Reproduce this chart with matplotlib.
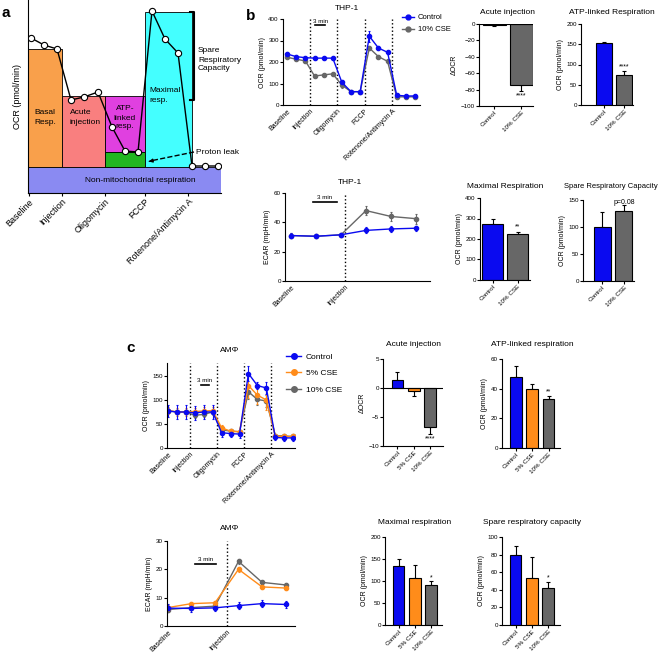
import matplotlib
matplotlib.use("Agg")
import matplotlib.pyplot as plt
from matplotlib.lines import Line2D
import numpy as np

plt.rcParams["font.family"] = ["Liberation Sans", "DejaVu Sans"]
plt.rcParams["font.size"] = 4.5
plt.rcParams["axes.linewidth"] = 0.8
plt.rcParams["xtick.major.width"] = 0.8
plt.rcParams["ytick.major.width"] = 0.8
plt.rcParams["xtick.major.size"] = 2
plt.rcParams["ytick.major.size"] = 2
plt.rcParams["xtick.major.pad"] = 1
plt.rcParams["ytick.major.pad"] = 1

BLUE = "#0a0af0"
ORANGE = "#ff8c1a"
GRAY = "#676767"

# ---------------- data ----------------
# panel a: schematic seahorse trace
a_x = [3, 16, 29, 43, 56, 70, 84, 97, 110, 124, 137, 150, 164, 177, 190]
a_y = [155, 148, 144, 93, 96, 101, 66, 42, 41, 182, 154, 140, 27, 27, 27]
a_ticks = [1, 34, 77, 117, 160]
phases = ["Baseline", "Injection", "Oligomycin", "FCCP", "Rotenone/Antimycin A"]
block_left = [0, 0, 34, 77, 77, 117]
block_right = [193, 34, 77, 117, 117, 164]
block_bottom = [0, 26, 26, 41, 26, 26]
block_top = [26, 144, 97, 97, 41, 181]
block_colors = ["#8a8af2", "#f9a04b", "#f97f7f", "#e040e0", "#22b622", "#44ffff"]

# panel b: THP-1
thp_ocr_ctrl = [237, 225, 220, 218, 218, 218, 105, 62, 62, 320, 265, 245, 45, 42, 42]
thp_ocr_ctrl_err = [8, 6, 5, 5, 5, 5, 10, 5, 5, 25, 8, 8, 6, 4, 4]
thp_ocr_cse = [222, 213, 205, 135, 140, 145, 92, 62, 62, 265, 225, 203, 38, 38, 38]
thp_ocr_cse_err = [5, 5, 5, 6, 5, 5, 15, 4, 4, 10, 8, 8, 4, 4, 4]

thp_ecar_ctrl = [31, 30.5, 31.5, 34.5, 35.5, 36]
thp_ecar_ctrl_err = [1.5, 1.5, 1.5, 2, 1.8, 1.8]
thp_ecar_cse = [31, 30.5, 31.5, 48, 44, 42.5]
thp_ecar_cse_err = [1.5, 1.5, 1.5, 3, 3, 3.5]

b_groups = ["Control", "10% CSE"]
b_acute = [-1, -74]
b_acute_err = [1, 8]
b_atp = [153, 74]
b_atp_err = [2, 9]
b_max = [275, 225]
b_max_err = [25, 8]
b_spare = [100, 130]
b_spare_err = [27, 10]

# panel c: AMPhi
am_ocr_ctrl = [77, 75, 75, 73, 75, 75, 32, 30, 29, 155, 130, 125, 22, 21, 21]
am_ocr_ctrl_err = [12, 15, 15, 15, 15, 15, 10, 8, 8, 15, 8, 12, 6, 6, 6]
am_ocr_5 = [78, 75, 75, 76, 77, 78, 42, 35, 34, 130, 110, 100, 25, 24, 24]
am_ocr_5_err = [8, 8, 8, 8, 8, 8, 5, 4, 4, 25, 18, 20, 3, 3, 3]
am_ocr_10 = [78, 75, 75, 68, 70, 75, 38, 35, 34, 117, 101, 98, 26, 25, 24]
am_ocr_10_err = [6, 5, 5, 6, 6, 6, 4, 3, 3, 15, 12, 12, 3, 3, 3]

am_ecar_ctrl = [6.3, 6.2, 6.4, 7.2, 7.9, 7.6]
am_ecar_ctrl_err = [1.5, 1.2, 1, 1.2, 1.2, 1.2]
am_ecar_5 = [6.5, 7.9, 8.2, 20, 13.8, 13.4]
am_ecar_5_err = [1, 0.5, 0.5, 0.8, 0.7, 0.7]
am_ecar_10 = [5.8, 6.5, 7, 22.8, 15.4, 14.5]
am_ecar_10_err = [1, 0.5, 0.5, 0.8, 0.6, 0.6]

c_groups = ["Control", "5% CSE", "10% CSE"]
c_acute = [1.3, -0.5, -6.8]
c_acute_err = [1.5, 0.8, 1.2]
c_atp = [48, 40, 33]
c_atp_err = [7, 3, 2]
c_max = [135, 107, 91]
c_max_err = [16, 29, 9]
c_spare = [80, 53, 42]
c_spare_err = [10, 24, 7]

# ---------------- figure ----------------
W, H = 660, 654
fig = plt.figure(figsize=(6.6, 6.54), dpi=100)


def box(l, t, r, b):
    ax = fig.add_axes([l / W, 1 - b / H, (r - l) / W, (b - t) / H])
    ax.spines[["top", "right"]].set_visible(False)
    return ax


def ftext(x, y, s, **kw):
    fig.text(x / W, 1 - y / H, s, **kw)


def line_panel(ax, series, xlim, ylim, yticks, vlines, tickpos, ylabel):
    for vals, errs, color in series:
        x = np.arange(len(vals))
        ax.errorbar(x, vals, yerr=errs, color=color, marker="o", ms=3,
                    lw=1, elinewidth=0.8, capsize=1, capthick=0.8)
    for v in vlines:
        ax.axvline(v, color="k", ls=":", lw=1)
    ax.set_xlim(*xlim)
    ax.set_ylim(*ylim)
    ax.set_yticks(yticks)
    ax.set_xticks(tickpos)
    ax.set_xticklabels(phases[:len(tickpos)], rotation=45, ha="right",
                       rotation_mode="anchor", fontsize=5)
    ax.tick_params(axis="x", length=0, pad=2)
    ax.set_ylabel(ylabel, fontsize=5, labelpad=2)


def bar_panel(ax, vals, errs, colors, groups, xlim, ylim, yticks, ylabel,
              sig, sig_y, width):
    x = np.arange(len(vals))
    ax.bar(x, vals, width, color=colors, edgecolor="k", lw=0.8, zorder=2)
    lo = [e if v < 0 else 0 for v, e in zip(vals, errs)]
    hi = [e if v >= 0 else 0 for v, e in zip(vals, errs)]
    ax.errorbar(x, vals, yerr=[lo, hi], fmt="none", ecolor="k",
                elinewidth=0.8, capsize=1.5, capthick=0.8, zorder=1)
    if ylim[0] < 0:
        ax.axhline(0, color="k", lw=0.8)
    ax.text(len(vals) - 1, sig_y, sig, ha="center", va="center", fontsize=5)
    ax.set_xlim(*xlim)
    ax.set_ylim(*ylim)
    ax.set_yticks(yticks)
    ax.set_xticks(x)
    ax.set_xticklabels(groups, rotation=45, ha="right", rotation_mode="anchor",
                       fontsize=4.5)
    ax.set_ylabel(ylabel, fontsize=5, labelpad=2)


# ---- panel a ----
ax = box(28, 0, 221, 193)
ax.bar(block_left, np.subtract(block_top, block_bottom),
       np.subtract(block_right, block_left), bottom=block_bottom,
       align="edge", color=block_colors, edgecolor="k", lw=0.6, zorder=1)
ax.plot(a_x, a_y, color="k", lw=1, marker="o", ms=4.5, mfc="white",
        mec="k", mew=0.8, zorder=4)
ax.plot([162, 166, 166, 162], [181, 181, 93, 93], color="k", lw=1.5, zorder=3)
ax.plot([166, 122], [41, 32], color="k", ls="--", lw=1, zorder=3)
ax.annotate("", xy=(118, 31), xytext=(124, 32.2),
            arrowprops=dict(arrowstyle="-|>", color="k", lw=1,
                            mutation_scale=5), zorder=3)
kw = dict(fontsize=6, zorder=5)
ax.text(17, 76, "Basal\nResp.", ha="center", va="center", linespacing=1.6, **kw)
ax.text(42, 76, "Acute\ninjection", ha="left", va="center", linespacing=1.6, **kw)
ax.text(97, 75, "ATP-\nlinked\nresp.", ha="center", va="center", linespacing=1.4, **kw)
ax.text(121, 97, "Maximal\nresp.", ha="left", va="center", linespacing=1.6, **kw)
ax.text(170, 133, "Spare\nRespiratory\nCapacity", ha="left", va="center",
        linespacing=1.4, **kw)
ax.text(168, 41, "Proton leak", ha="left", va="center", **kw)
ax.text(112, 13, "Non-mitochondrial respiration", ha="center", va="center", **kw)
ax.set_xlim(0, 193)
ax.set_ylim(0, 193)
ax.set_yticks([])
ax.set_xticks(a_ticks)
ax.set_xticklabels(phases, rotation=45, ha="right", rotation_mode="anchor",
                   fontsize=6.5)
ax.set_ylabel("OCR (pmol/min)", fontsize=6.5, labelpad=4)
ftext(2, 17, "a", fontsize=11, fontweight="bold")

# ---- panel b ----
ftext(246, 20, "b", fontsize=11, fontweight="bold")

ax = box(283, 19, 420, 105)
line_panel(ax, [(thp_ocr_cse, thp_ocr_cse_err, GRAY),
                (thp_ocr_ctrl, thp_ocr_ctrl_err, BLUE)],
           (-0.45, 14.55), (0, 400), [0, 100, 200, 300, 400],
           [2.5, 5.5, 8.5, 11.5], [0, 2.5, 5.5, 8.5, 11.5], "OCR (pmol/min)")
ax.plot([3.1, 4.2], [372, 372], color="k", lw=1.2)
ax.text(3.65, 378, "3 min", ha="center", va="bottom", fontsize=4.5)
h_ctrl = Line2D([], [], color=BLUE, marker="o", ms=3.5, lw=1)
h_cse = Line2D([], [], color=GRAY, marker="o", ms=3.5, lw=1)
ax.legend([h_ctrl, h_cse], b_groups, loc="upper left",
          bbox_to_anchor=(402 / W, 1 - 14 / H), bbox_transform=fig.transFigure,
          frameon=False, fontsize=5.5, handlelength=1.6, handletextpad=0.5,
          labelspacing=0.6, borderpad=0, borderaxespad=0)
ftext(347, 9, "THP-1", fontsize=6, ha="center", va="center")

ax = box(479, 24, 533, 106)
bar_panel(ax, b_acute, b_acute_err, [BLUE, GRAY], b_groups, (-0.56, 1.44),
          (-100, 0), [-100, -80, -60, -40, -20, 0], "ΔOCR", "****", -88, 0.85)
ftext(507, 12, "Acute injection", fontsize=6, ha="center", va="center")

ax = box(581, 24, 633, 105)
bar_panel(ax, b_atp, b_atp_err, [BLUE, GRAY], b_groups, (-1.15, 1.45),
          (0, 200), [0, 50, 100, 150, 200], "OCR (pmol/min)", "****", 93, 0.8)
ftext(612, 12, "ATP-linked Respiration", fontsize=6, ha="center", va="center")

ax = box(285, 193, 430, 281)
line_panel(ax, [(thp_ecar_cse, thp_ecar_cse_err, GRAY),
                (thp_ecar_ctrl, thp_ecar_ctrl_err, BLUE)],
           (-0.24, 5.56), (0, 60), [0, 20, 40, 60],
           [2.17], [0, 2.17], "ECAR (mpH/min)")
ax.plot([0.88, 1.84], [53.9, 53.9], color="k", lw=1.2)
ax.text(1.36, 55, "3 min", ha="center", va="bottom", fontsize=4.5)
ftext(350, 183, "THP-1", fontsize=6, ha="center", va="center")

ax = box(480, 198, 530, 280)
bar_panel(ax, b_max, b_max_err, [BLUE, GRAY], b_groups, (-0.5, 1.5),
          (0, 400), [0, 100, 200, 300, 400], "OCR (pmol/min)", "**", 258, 0.84)
ftext(505, 187, "Maximal Respiration", fontsize=6, ha="center", va="center")

ax = box(583, 200, 634, 281)
bar_panel(ax, b_spare, b_spare_err, [BLUE, GRAY], b_groups, (-0.9, 1.47),
          (0, 150), [0, 50, 100, 150], "OCR (pmol/min)", "p=0.08", 146, 0.8)
ftext(611, 187, "Spare Respiratory Capacity", fontsize=5.5, ha="center",
      va="center")

# ---- panel c ----
ftext(126, 352, "c", fontsize=11, fontweight="bold")

ax = box(167, 363, 295, 448)
line_panel(ax, [(am_ocr_10, am_ocr_10_err, GRAY),
                (am_ocr_5, am_ocr_5_err, ORANGE),
                (am_ocr_ctrl, am_ocr_ctrl_err, BLUE)],
           (-0.1, 14.2), (0, 177), [0, 50, 100, 150],
           [2.5, 5.5, 8.5, 11.5], [0, 2.5, 5.5, 8.5, 11.5], "OCR (pmol/min)")
ax.plot([3.66, 4.63], [132, 132], color="k", lw=1.2)
ax.text(4.15, 136, "3 min", ha="center", va="bottom", fontsize=4.5)
hs = [Line2D([], [], color=c, marker="o", ms=4, lw=1) for c in (BLUE, ORANGE, GRAY)]
ax.legend(hs, c_groups, loc="upper left",
          bbox_to_anchor=(286 / W, 1 - 353 / H), bbox_transform=fig.transFigure,
          frameon=False, fontsize=6, handlelength=1.8, handletextpad=0.6,
          labelspacing=1.05, borderpad=0, borderaxespad=0)
ftext(230, 351, "AMΦ", fontsize=6, ha="center", va="center")

ax = box(383, 359, 443, 446)
bar_panel(ax, c_acute, c_acute_err, [BLUE, ORANGE, GRAY], c_groups,
          (-0.89, 2.8), (-10, 5), [-10, -5, 0, 5], "ΔOCR", "****", -8.8, 0.72)
ftext(413, 345, "Acute injection", fontsize=6, ha="center", va="center")

ax = box(502, 359, 560, 448)
bar_panel(ax, c_atp, c_atp_err, [BLUE, ORANGE, GRAY], c_groups,
          (-0.86, 2.7), (0, 60), [0, 20, 40, 60], "OCR (pmol/min)", "**", 38, 0.72)
ftext(532, 345, "ATP-linked respiration", fontsize=6, ha="center", va="center")

ax = box(167, 541, 295, 626)
line_panel(ax, [(am_ecar_10, am_ecar_10_err, GRAY),
                (am_ecar_5, am_ecar_5_err, ORANGE),
                (am_ecar_ctrl, am_ecar_ctrl_err, BLUE)],
           (-0.04, 5.4), (0, 30), [0, 10, 20, 30],
           [2.5], [0, 2.5], "ECAR (mpH/min)")
ax.plot([1.13, 2.06], [21.9, 21.9], color="k", lw=1.2)
ax.text(1.6, 22.6, "3 min", ha="center", va="bottom", fontsize=4.5)
ftext(230, 529, "AMΦ", fontsize=6, ha="center", va="center")

ax = box(385, 537, 442, 625)
bar_panel(ax, c_max, c_max_err, [BLUE, ORANGE, GRAY], c_groups,
          (-0.83, 2.66), (0, 200), [0, 50, 100, 150, 200], "OCR (pmol/min)",
          "*", 106, 0.72)
ftext(415, 523, "Maximal respiration", fontsize=6, ha="center", va="center")

ax = box(502, 537, 560, 625)
bar_panel(ax, c_spare, c_spare_err, [BLUE, ORANGE, GRAY], c_groups,
          (-0.83, 2.73), (0, 100), [0, 20, 40, 60, 80, 100], "OCR (pmol/min)",
          "*", 53, 0.72)
ftext(532, 523, "Spare respiratory capacity", fontsize=6, ha="center", va="center")

fig.savefig("out.png", dpi=100)
